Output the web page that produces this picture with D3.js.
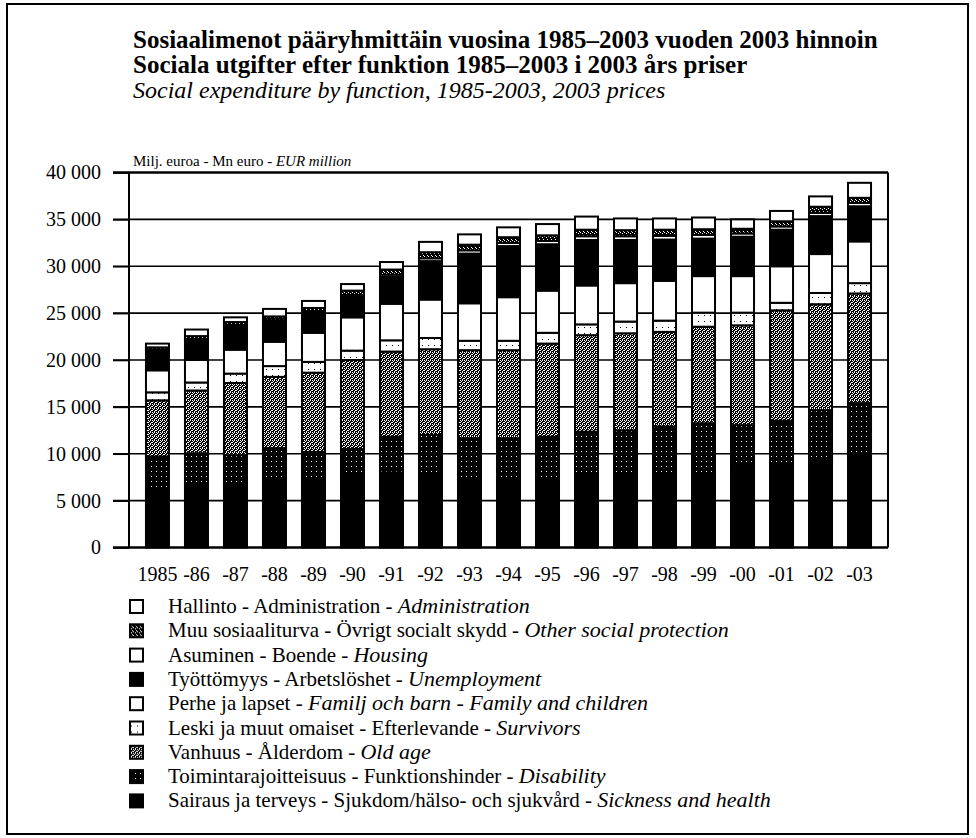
<!DOCTYPE html>
<html>
<head>
<meta charset="utf-8">
<script src="https://cdn.jsdelivr.net/npm/d3@7"></script>
<style>
body { margin: 0; background: #fff; }
svg, svg text { font-family: "Liberation Serif", "DejaVu Serif", serif; }
</style>
</head>
<body>
<div id="chart"></div>
<script>
// years on the x axis
let years = ["1985", "-86", "-87", "-88", "-89", "-90", "-91", "-92", "-93", "-94",
  "-95", "-96", "-97", "-98", "-99", "-00", "-01", "-02", "-03"];

// EUR million, 2003 prices
let sickness     = [6100, 6850, 6850, 7200, 7200, 7550, 8000, 7550, 7200, 7200, 7400, 7550, 7900, 7900, 7900, 8600, 8600, 9300, 10050];
let disability   = [3600, 3200, 3000, 3400, 3000, 2950, 3800, 4450, 4450, 4450, 4400, 4800, 4600, 5000, 5350, 4450, 4900, 5350, 5350];
let oldAge       = [6000, 6700, 7700, 7600, 8450, 9500, 9100, 9150, 9400, 9400, 9950, 10300, 10350, 10100, 10300, 10650, 11800, 11300, 11700];
let survivors    = [850, 850, 1000, 1150, 1150, 1000, 1200, 1200, 1000, 1000, 1150, 1150, 1250, 1200, 1500, 1350, 800, 1200, 1100];
let family       = [2350, 2400, 2550, 2600, 3100, 3550, 3900, 4100, 4000, 4650, 4500, 4150, 4100, 4250, 3900, 3900, 3900, 4150, 4450];
let unemployment = [2100, 2050, 2500, 2100, 2050, 2200, 2850, 4100, 5300, 5450, 4950, 4850, 4600, 4400, 4000, 4200, 3900, 4050, 3750];
let housing      = [100, 150, 150, 200, 200, 200, 250, 300, 350, 350, 350, 400, 400, 400, 400, 350, 350, 350, 350];
let other        = [250, 350, 300, 400, 400, 450, 550, 650, 600, 600, 600, 700, 650, 650, 600, 500, 550, 650, 550];
let admin        = [400, 700, 500, 800, 750, 700, 800, 1100, 1100, 1050, 1200, 1400, 1250, 1200, 1250, 1000, 1100, 1100, 1600];

let yTicks = [0, 5000, 10000, 15000, 20000, 25000, 30000, 35000, 40000];

// stack order bottom -> top
let keys = ["sickness", "disability", "oldAge", "survivors", "family", "unemployment", "housing", "other", "admin"];

// legend, top -> bottom: [plain part, italic part]
let legendKeys = ["admin", "other", "housing", "unemployment", "family", "survivors", "oldAge", "disability", "sickness"];
let legendLabels = [
  ["Hallinto - Administration - ", "Administration"],
  ["Muu sosiaaliturva - Övrigt socialt skydd - ", "Other social protection"],
  ["Asuminen - Boende - ", "Housing"],
  ["Työttömyys - Arbetslöshet - ", "Unemployment"],
  ["Perhe ja lapset - ", "Familj och barn - Family and children"],
  ["Leski ja muut omaiset - Efterlevande - ", "Survivors"],
  ["Vanhuus - Ålderdom - ", "Old age"],
  ["Toimintarajoitteisuus - Funktionshinder - ", "Disability"],
  ["Sairaus ja terveys - Sjukdom/hälso- och sjukvård - ", "Sickness and health"]
];

let series = { sickness, disability, oldAge, survivors, family, unemployment, housing, other, admin };
let rows = years.map((yr, i) => {
  let r = { year: yr };
  keys.forEach(k => r[k] = series[k][i]);
  return r;
});

let width = 976, height = 838;
let plotLeft = 129, plotRight = 888, plotTop = 172.5, plotBottom = 547.5;
let serif = "'Liberation Serif', 'DejaVu Serif', serif";

let svg = d3.select("#chart").append("svg")
  .attr("width", width)
  .attr("height", height)
  .style("font-family", serif);

// fills that stand in for the printed halftones
let defs = svg.append("defs");

function dotPattern(id, size, bg, fg, dots) {
  let p = defs.append("pattern").attr("id", id)
    .attr("width", size).attr("height", size)
    .attr("patternUnits", "userSpaceOnUse");
  p.append("rect").attr("width", size).attr("height", size).attr("fill", bg);
  dots.forEach(([dx, dy]) => p.append("rect")
    .attr("x", dx).attr("y", dy).attr("width", 1).attr("height", 1).attr("fill", fg));
}

dotPattern("p-disability", 5, "#000", "#fff", [[1, 1]]);
dotPattern("p-oldage", 4, "#000", "#fff", [[0, 0], [2, 0], [1, 1], [3, 2], [0, 2], [2, 3]]);
dotPattern("p-survivors", 6, "#fff", "#000", [[2, 3]]);
dotPattern("p-other", 4, "#000", "#fff", [[0, 0], [2, 1], [3, 3]]);

let fills = {
  sickness: "#000",
  disability: "url(#p-disability)",
  oldAge: "url(#p-oldage)",
  survivors: "url(#p-survivors)",
  family: "#fff",
  unemployment: "#000",
  housing: "#fff",
  other: "url(#p-other)",
  admin: "#fff"
};

// outer frame
svg.append("rect")
  .attr("x", 7).attr("y", 4)
  .attr("width", 961).attr("height", 830)
  .attr("fill", "none").attr("stroke", "#000").attr("stroke-width", 2);

// titles
let title = svg.append("g").attr("transform", "translate(133,0)");
title.append("text").attr("y", 48)
  .style("font-size", "25px").style("font-weight", "bold")
  .text("Sosiaalimenot pääryhmittäin vuosina 1985–2003 vuoden 2003 hinnoin");
title.append("text").attr("y", 73)
  .style("font-size", "25px").style("font-weight", "bold")
  .text("Sociala utgifter efter funktion 1985–2003 i 2003 års priser");
title.append("text").attr("y", 98)
  .style("font-size", "24px").style("font-style", "italic")
  .text("Social expenditure by function, 1985-2003, 2003 prices");

let unit = svg.append("text").attr("x", 133).attr("y", 166).style("font-size", "15px");
unit.append("tspan").text("Milj. euroa - Mn euro - ");
unit.append("tspan").style("font-style", "italic").text("EUR million");

// scales
let x = d3.scaleBand()
  .domain(years)
  .range([plotLeft, plotRight])
  .paddingInner(0.41)
  .paddingOuter(0.435);

let y = d3.scaleLinear()
  .domain([0, 40000])
  .range([plotBottom, plotTop]);

// gridlines
svg.append("g")
  .selectAll("line")
  .data(yTicks)
  .join("line")
  .attr("x1", plotLeft - 16).attr("x2", plotRight)
  .attr("y1", d => y(d)).attr("y2", d => y(d))
  .attr("stroke", "#000")
  .attr("stroke-width", d => (d === 0 || d === 40000) ? 2.5 : 1.6);

// right frame line
svg.append("line")
  .attr("x1", plotRight).attr("x2", plotRight)
  .attr("y1", plotTop).attr("y2", plotBottom)
  .attr("stroke", "#000").attr("stroke-width", 2);

// bars
let stacked = d3.stack().keys(keys)(rows);

svg.append("g")
  .selectAll("g")
  .data(stacked)
  .join("g")
  .attr("fill", d => fills[d.key])
  .selectAll("rect")
  .data(d => d)
  .join("rect")
  .attr("x", d => x(d.data.year))
  .attr("y", d => y(d[1]))
  .attr("width", x.bandwidth())
  .attr("height", d => y(d[0]) - y(d[1]))
  .attr("stroke", "#000")
  .attr("stroke-width", 2);

// y axis
let yAxis = svg.append("g")
  .attr("transform", `translate(${plotLeft},0)`)
  .call(d3.axisLeft(y)
    .tickValues(yTicks)
    .tickSize(16)
    .tickPadding(12)
    .tickFormat(d => d3.format(",")(d).replace(/,/g, " ")));
yAxis.attr("font-family", serif).attr("font-size", 20);
yAxis.select(".domain").attr("stroke-width", 2).attr("d", `M0,${plotTop}V${plotBottom}`);
yAxis.selectAll(".tick line").attr("stroke-width", 1.6);

// x axis labels
let xAxis = svg.append("g")
  .attr("transform", `translate(0,${plotBottom})`)
  .call(d3.axisBottom(x).tickSize(0).tickPadding(19));
xAxis.attr("font-family", serif).attr("font-size", 20);
xAxis.select(".domain").remove();

// legend
let legend = svg.append("g").attr("transform", "translate(129,607)");
let item = legend.selectAll("g")
  .data(legendKeys)
  .join("g")
  .attr("transform", (d, i) => `translate(0,${i * 24.3})`);

item.append("rect")
  .attr("x", 1).attr("y", -7)
  .attr("width", 13).attr("height", 13)
  .attr("fill", d => fills[d])
  .attr("stroke", "#000")
  .attr("stroke-width", 2);

let label = item.append("text")
  .attr("x", 39).attr("y", 6)
  .style("font-size", "21px");
label.append("tspan").text((d, i) => legendLabels[i][0]);
label.append("tspan").style("font-style", "italic").style("font-size", "22px")
  .text((d, i) => legendLabels[i][1]);
</script>
</body>
</html>
